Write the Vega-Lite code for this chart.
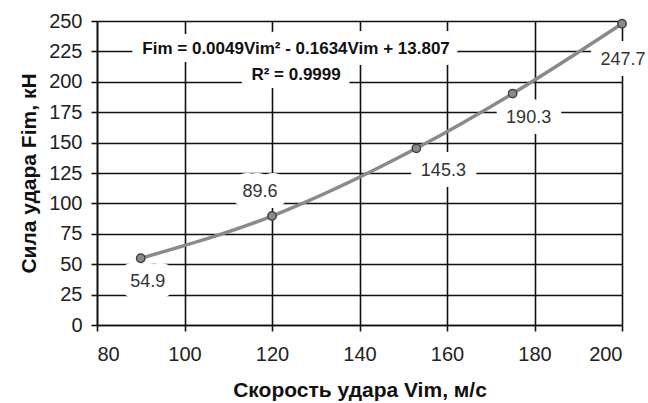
{
  "$schema": "https://vega.github.io/schema/vega-lite/v6.json",
  "width": 525,
  "height": 304,
  "autosize": "none",
  "padding": {"left": 97, "top": 21, "right": 26, "bottom": 78},
  "background": "white",
  "config": {
    "view": {"stroke": null},
    "font": "Liberation Sans",
    "axis": {
      "grid": true,
      "gridColor": "#111111",
      "gridWidth": 1.6,
      "gridOpacity": 1,
      "domainColor": "#111111",
      "domainWidth": 1.6,
      "tickColor": "#111111",
      "tickWidth": 1.6,
      "tickSize": 6,
      "labelFont": "Liberation Sans",
      "labelFontSize": 20,
      "labelColor": "#222222",
      "titleFont": "Liberation Sans",
      "titleFontSize": 21,
      "titleFontWeight": "bold",
      "titleColor": "#111111"
    }
  },
  "datasets": {
    "impact": [
      {"v": 90, "f": 54.9},
      {"v": 120, "f": 89.6},
      {"v": 153, "f": 145.3},
      {"v": 175, "f": 190.3},
      {"v": 200, "f": 247.7}
    ],
    "trend": [
      {"line": "Fim = 0.0049Vim² - 0.1634Vim + 13.807", "v": 125.5, "f": 227},
      {"line": "R² = 0.9999", "v": 125.5, "f": 205.5}
    ]
  },
  "encoding": {
    "x": {
      "field": "v",
      "type": "quantitative",
      "scale": {"domain": [80, 200], "nice": false, "zero": false},
      "axis": {
        "values": [80, 100, 120, 140, 160, 180, 200],
        "title": "Скорость удара Vim, м/с",
        "labelPadding": 13,
        "titlePadding": 15
      }
    },
    "y": {
      "field": "f",
      "type": "quantitative",
      "scale": {"domain": [0, 250], "nice": false},
      "axis": {
        "values": [0, 25, 50, 75, 100, 125, 150, 175, 200, 225, 250],
        "title": "Сила удара Fim, кН",
        "labelPadding": 9,
        "titlePadding": 9
      }
    }
  },
  "layer": [
    {
      "data": {"name": "trend"},
      "mark": {"type": "text", "fontSize": 17, "fontWeight": "bold", "fill": "white", "stroke": "white", "strokeWidth": 22, "strokeJoin": "round"},
      "encoding": {"text": {"field": "line"}}
    },
    {
      "data": {"name": "trend"},
      "mark": {"type": "text", "fontSize": 17, "fontWeight": "bold", "color": "#111111"},
      "encoding": {"text": {"field": "line"}}
    },
    {
      "data": {"name": "impact"},
      "transform": [{"filter": "datum.v == 90"}],
      "encoding": {"text": {"field": "f", "type": "quantitative", "format": ".1f"}},
      "layer": [
        {"mark": {"type": "text", "fontSize": 18, "dx": 7, "dy": 24, "fill": "white", "stroke": "white", "strokeWidth": 22, "strokeJoin": "round"}},
        {"mark": {"type": "text", "fontSize": 18, "dx": 7, "dy": 24, "color": "#333333"}}
      ]
    },
    {
      "data": {"name": "impact"},
      "transform": [{"filter": "datum.v == 120"}],
      "encoding": {"text": {"field": "f", "type": "quantitative", "format": ".1f"}},
      "layer": [
        {"mark": {"type": "text", "fontSize": 18, "dx": -12, "dy": -24, "fill": "white", "stroke": "white", "strokeWidth": 22, "strokeJoin": "round"}},
        {"mark": {"type": "text", "fontSize": 18, "dx": -12, "dy": -24, "color": "#333333"}}
      ]
    },
    {
      "data": {"name": "impact"},
      "transform": [{"filter": "datum.v == 153"}],
      "encoding": {"text": {"field": "f", "type": "quantitative", "format": ".1f"}},
      "layer": [
        {"mark": {"type": "text", "fontSize": 18, "dx": 27, "dy": 23, "fill": "white", "stroke": "white", "strokeWidth": 22, "strokeJoin": "round"}},
        {"mark": {"type": "text", "fontSize": 18, "dx": 27, "dy": 23, "color": "#333333"}}
      ]
    },
    {
      "data": {"name": "impact"},
      "transform": [{"filter": "datum.v == 175"}],
      "encoding": {"text": {"field": "f", "type": "quantitative", "format": ".1f"}},
      "layer": [
        {"mark": {"type": "text", "fontSize": 18, "dx": 16, "dy": 24, "fill": "white", "stroke": "white", "strokeWidth": 22, "strokeJoin": "round"}},
        {"mark": {"type": "text", "fontSize": 18, "dx": 16, "dy": 24, "color": "#333333"}}
      ]
    },
    {
      "data": {"name": "impact"},
      "transform": [{"filter": "datum.v == 200"}],
      "encoding": {"text": {"field": "f", "type": "quantitative", "format": ".1f"}},
      "layer": [
        {"mark": {"type": "text", "fontSize": 18, "dx": 1, "dy": 36, "fill": "white", "stroke": "white", "strokeWidth": 22, "strokeJoin": "round"}},
        {"mark": {"type": "text", "fontSize": 18, "dx": 1, "dy": 36, "color": "#333333"}}
      ]
    },
    {
      "data": {"name": "impact"},
      "mark": {"type": "line", "interpolate": "monotone", "color": "#8a8a8a", "strokeWidth": 3.5}
    },
    {
      "data": {"name": "impact"},
      "mark": {"type": "point", "filled": true, "size": 70, "color": "#8a8a8a", "stroke": "#444444", "strokeWidth": 1.5, "opacity": 1}
    }
  ]
}
